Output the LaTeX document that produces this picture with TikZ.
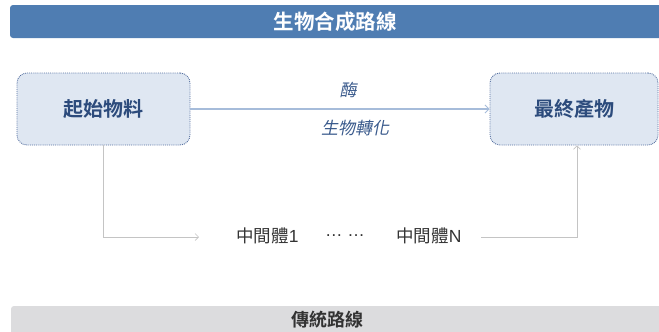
\documentclass[tikz,border=0pt]{standalone}
\usepackage{fontspec}
\setmainfont{Noto Sans CJK TC}
\newfontfamily\cjkb[BoldFont={* Bold}]{Noto Sans CJK TC}
\newfontfamily\cjki[FakeSlant=0.2]{Noto Sans CJK TC}
\newfontfamily\lat{Liberation Sans}
\usetikzlibrary{arrows.meta}
\definecolor{barblue}{HTML}{4F7DB2}
\definecolor{bargray}{HTML}{DCDCDE}
\definecolor{boxfill}{HTML}{DFE7F2}
\definecolor{boxline}{HTML}{5670A0}
\definecolor{boxtext}{HTML}{2C4B7C}
\definecolor{arrowblue}{HTML}{A6BCDA}
\definecolor{labeltext}{HTML}{3A5A8C}
\definecolor{grayline}{HTML}{C4C4C4}
\definecolor{darktext}{HTML}{333333}
\tikzset{
  barbox/.style={rectangle, rounded corners=3pt, inner sep=0pt},
  mainbox/.style={rectangle, rounded corners=10pt, fill=boxfill, draw=boxline, densely dotted, line width=0.9pt, inner sep=0pt, text=boxtext, font=\cjkb\bfseries\fontsize{20}{24}\selectfont},
  labelnode/.style={text=labeltext, font=\cjki\fontsize{17}{20}\selectfont, inner sep=0pt},
  midtext/.style={text=darktext, font=\fontsize{17.5}{20}\selectfont, inner sep=0pt},
  blueconn/.style={draw=arrowblue, line width=1.5pt, -{Straight Barb[length=4pt,width=8pt,line width=0.8pt]}},
  grayconn/.style={draw=grayline, line width=0.9pt, -{Straight Barb[length=3.5pt,width=7pt,line width=0.6pt]}},
}
\begin{document}
\begin{tikzpicture}[x=1pt,y=-1pt]
\useasboundingbox (0,0) rectangle (659,332);
\clip (0,0) rectangle (659,332);
% top bar
\node[barbox, fill=barblue, minimum width=660pt, minimum height=33pt] (topbar) at (340,21.5) {};
\node[text=white, font=\cjkb\bfseries\fontsize{20.5}{24}\selectfont, inner sep=0pt] (title) at (335,22) {生物合成路線};
% bottom bar
\node[barbox, fill=bargray, minimum width=660pt, minimum height=34pt] (botbar) at (341,323) {};
\node[text=darktext, font=\cjkb\bfseries\fontsize{18}{21}\selectfont, inner sep=0pt] (bottitle) at (327,320) {傳統路線};
% boxes
\node[mainbox, minimum width=173pt, minimum height=72pt] (start) at (103.5,109) {起始物料};
\node[mainbox, minimum width=168pt, minimum height=72pt] (final) at (574,109) {最終產物};
% main arrow
\draw[blueconn] (start.east) -- (final.west);
\node[labelnode] (enzyme) at (348,90) {酶};
\node[labelnode] (bio) at (355,128.5) {生物轉化};
% intermediates
\node[midtext] (int1) at (267.5,236) {中間體{\lat 1}};
\node[midtext, font=\lat\fontsize{17.5}{20}\selectfont] (dots) at (345,236) {… …};
\node[midtext] (intN) at (429,236) {中間體{\lat N}};
\coordinate (c0) at (199,237);
\coordinate (c1) at (481,237);
\draw[grayconn] (start.south) |- (c0);
\draw[grayconn] (c1) -| ([xshift=3pt]final.south);
\end{tikzpicture}
\end{document}
